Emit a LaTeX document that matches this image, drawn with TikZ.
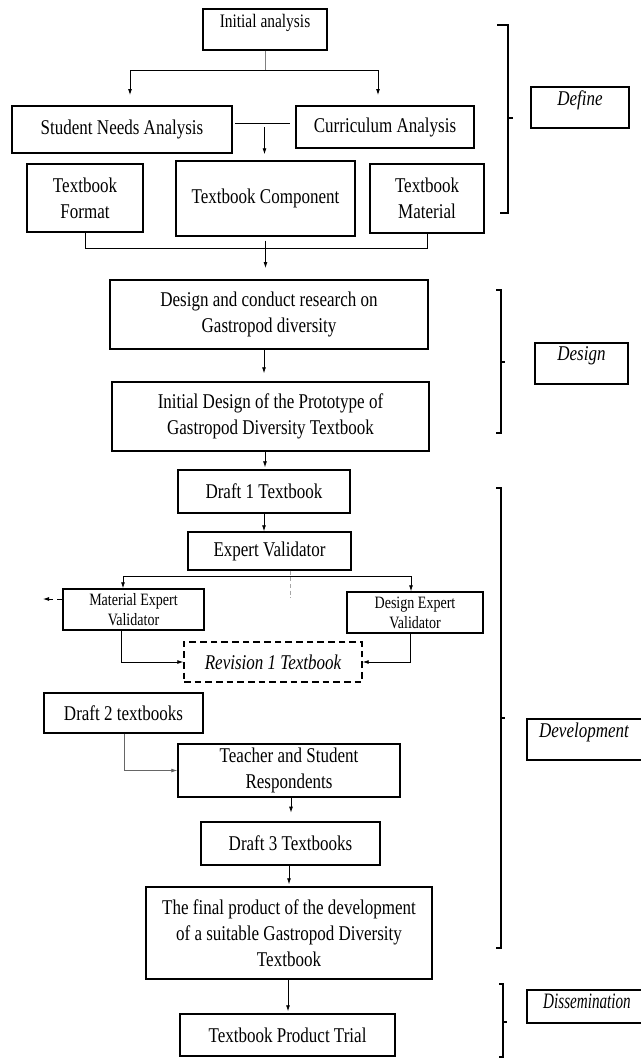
\documentclass[tikz,border=0pt]{standalone}
\usepackage{fontspec}
\setmainfont{Liberation Serif}[FakeStretch=0.81]
\usetikzlibrary{arrows.meta}
\newcommand{\mainfs}{\fontsize{15.75}{19.5}\selectfont}
\newcommand{\iafs}{\fontsize{14.3}{16}\selectfont}
\newcommand{\smallfs}{\fontsize{13}{15}\selectfont}
\begin{document}
\begin{tikzpicture}[x=0.75pt,y=-0.75pt,
  box/.style={draw, line width=1.1pt, inner sep=0pt, align=center, font=\mainfs},
  dbox/.style={box, dashed, dash pattern=on 5pt off 3pt},
  txt/.style={inner sep=0pt, align=center, font=\mainfs},
  conn/.style={line width=0.6pt},
  arr/.style={conn, -{Latex[length=4.5pt,width=3pt]}},
  brk/.style={line width=0.9pt},
  ]
\useasboundingbox (0,0) rectangle (640,1058);

% ---------- Define ----------
\node[box, minimum width=93pt, minimum height=30.75pt] (ia) at (265,29.5) {};
\node[txt, font=\iafs] (iat) at (265,23) {Initial analysis};
\node[box, minimum width=165pt, minimum height=35.25pt] (sn) at (122,129.5) {Student Needs Analysis};
\node[box, minimum width=133.5pt, minimum height=31.5pt] (ca) at (385,127) {Curriculum Analysis};
\node[box, minimum width=87pt, minimum height=51pt] (tf) at (85,198) {Textbook\\Format};
\node[box, minimum width=134.25pt, minimum height=56.25pt] (tc) at (265.5,198.5) {Textbook Component};
\node[box, minimum width=85.5pt, minimum height=51.75pt] (tm) at (427,198.5) {Textbook\\Material};

\coordinate (b1) at (265,70);
\coordinate (a1) at (130,95);
\coordinate (a2) at (378,95);
\draw[conn, gray] (ia.south) -- (b1);
\draw[arr] (b1) -| (a1);
\draw[arr] (b1) -| (a2);

\coordinate (c1) at (235,123);
\coordinate (c2) at (290,123);
\coordinate (c3) at (264.5,123);
\draw[conn] (c1) -- (c2);
\draw[arr, shorten >=4.5pt, shorten <=3pt] (c3) -- (c3 |- tc.north);

\draw[conn] (tf.south) -- ++(0,16) -| (tm.south);
\draw[arr, shorten <=3pt, shorten >=9pt] (tc.south) -- (tc.south |- 0,280);

% ---------- Design ----------
\node[box, minimum width=238.5pt, minimum height=51.75pt] (dr) at (269,314.5) {Design and conduct research on\\Gastropod diversity};
\node[box, minimum width=237.75pt, minimum height=51.75pt] (id) at (270.5,416.5) {Initial Design of the Prototype of\\Gastropod Diversity Textbook};
\draw[arr, shorten >=6pt] (dr.south -| 264,0) -- (id.north -| 264,0);
\draw[arr, shorten >=2pt] (id.south -| 265,0) -- (0,470 -| 265,0);

% ---------- Development ----------
\node[box, minimum width=129pt, minimum height=32.25pt] (d1) at (264,491.5) {Draft 1 Textbook};
\node[box, minimum width=122.25pt, minimum height=28.5pt] (ev) at (269.5,551) {Expert Validator};
\draw[arr] (d1.south) -- (d1.south |- ev.north);

\node[box, font=\smallfs, align=center, minimum width=105.75pt, minimum height=30.75pt] (me) at (133.5,609.5) {Material Expert\\Validator};
\node[box, font=\smallfs, align=center, minimum width=102pt, minimum height=30.75pt] (de) at (415,612.5) {Design Expert\\Validator};
\node[dbox, minimum width=133.5pt, minimum height=30pt, font=\mainfs\itshape] (rv) at (273,662) {Revision 1 Textbook};

\coordinate (h1) at (123,576);
\coordinate (h2) at (411,576);
\coordinate (hm) at (290,598);
\draw[conn] (h1) -- (h2);
\draw[arr] (h1) -- (h1 |- me.north);
\draw[arr] (h2) -- (h2 |- de.north);
\draw[conn, gray!70, dashed, dash pattern=on 3pt off 2pt] (ev.south -| hm) -- (hm);

\coordinate (ml) at (43,599);
\draw[arr, dashed, dash pattern=on 4pt off 3pt] (me.west |- ml) -- (ml);
\draw[arr] (me.south -| 121,0) |- (rv.west);
\draw[arr] (de.south -| 410,0) |- (rv.east);

\node[box, minimum width=119.25pt, minimum height=30pt] (d2) at (123.5,713) {Draft 2 textbooks};
\node[box, minimum width=166.5pt, minimum height=39.75pt] (ts) at (289,770.5) {Teacher and Student\\Respondents};
\draw[arr, gray!80!black] (d2.south -| 124,0) |- (ts.west);

\node[box, minimum width=134.25pt, minimum height=32.25pt] (d3) at (290.5,843.5) {Draft 3 Textbooks};
\draw[arr, shorten >=6.5pt] (ts.south -| 291,0) -- (d3.north -| 291,0);

\node[box, minimum width=214.5pt, minimum height=69pt] (fp) at (289,933) {The final product of the development\\of a suitable Gastropod Diversity\\Textbook};
\draw[arr, shorten >=1.5pt] (d3.south -| 289,0) -- (fp.north -| 289,0);

% ---------- Dissemination ----------
\node[box, minimum width=161.25pt, minimum height=31.5pt] (pt) at (287.5,1035) {Textbook Product Trial};
\draw[arr, shorten >=1.5pt] (fp.south -| 288,0) -- (pt.north -| 288,0);

% ---------- phase brackets and labels ----------
\draw[brk] (497,25) -- (508,25) -- (508,213) -- (500,213);
\draw[brk] (508,118) -- (513,118);
\node[box, minimum width=73.5pt, minimum height=30.75pt] (lDefine) at (580,107.5) {};
\node[txt, font=\mainfs\itshape] (lDefinet) at (580,100) {Define};

\draw[brk] (496,290) -- (501,290) -- (501,433) -- (496,433);
\draw[brk] (501,362) -- (505,362);
\node[box, minimum width=69.75pt, minimum height=30.75pt] (lDesign) at (581.5,363.5) {};
\node[txt, font=\mainfs\itshape] (lDesignt) at (581.5,356) {Design};

\draw[brk] (496,488) -- (501,488) -- (501,948) -- (496,948);
\draw[brk] (501,718) -- (505,718);
\node[box, minimum width=86.25pt, minimum height=30.75pt] (lDev) at (584.5,739.5) {};
\node[txt, font=\mainfs\itshape] (lDevt) at (584,732) {Development};

\draw[brk] (499,984) -- (503,984) -- (503,1057) -- (499,1057);
\draw[brk] (503,1022) -- (507,1022);
\node[box, minimum width=86.25pt, minimum height=24.75pt] (lDis) at (584.5,1006.5) {};
\node[txt, font=\fontsize{16.5}{18}\selectfont\itshape] (lDist) at (587,1001) {\scalebox{0.85}[1]{Dissemination}};
\end{tikzpicture}
\end{document}
